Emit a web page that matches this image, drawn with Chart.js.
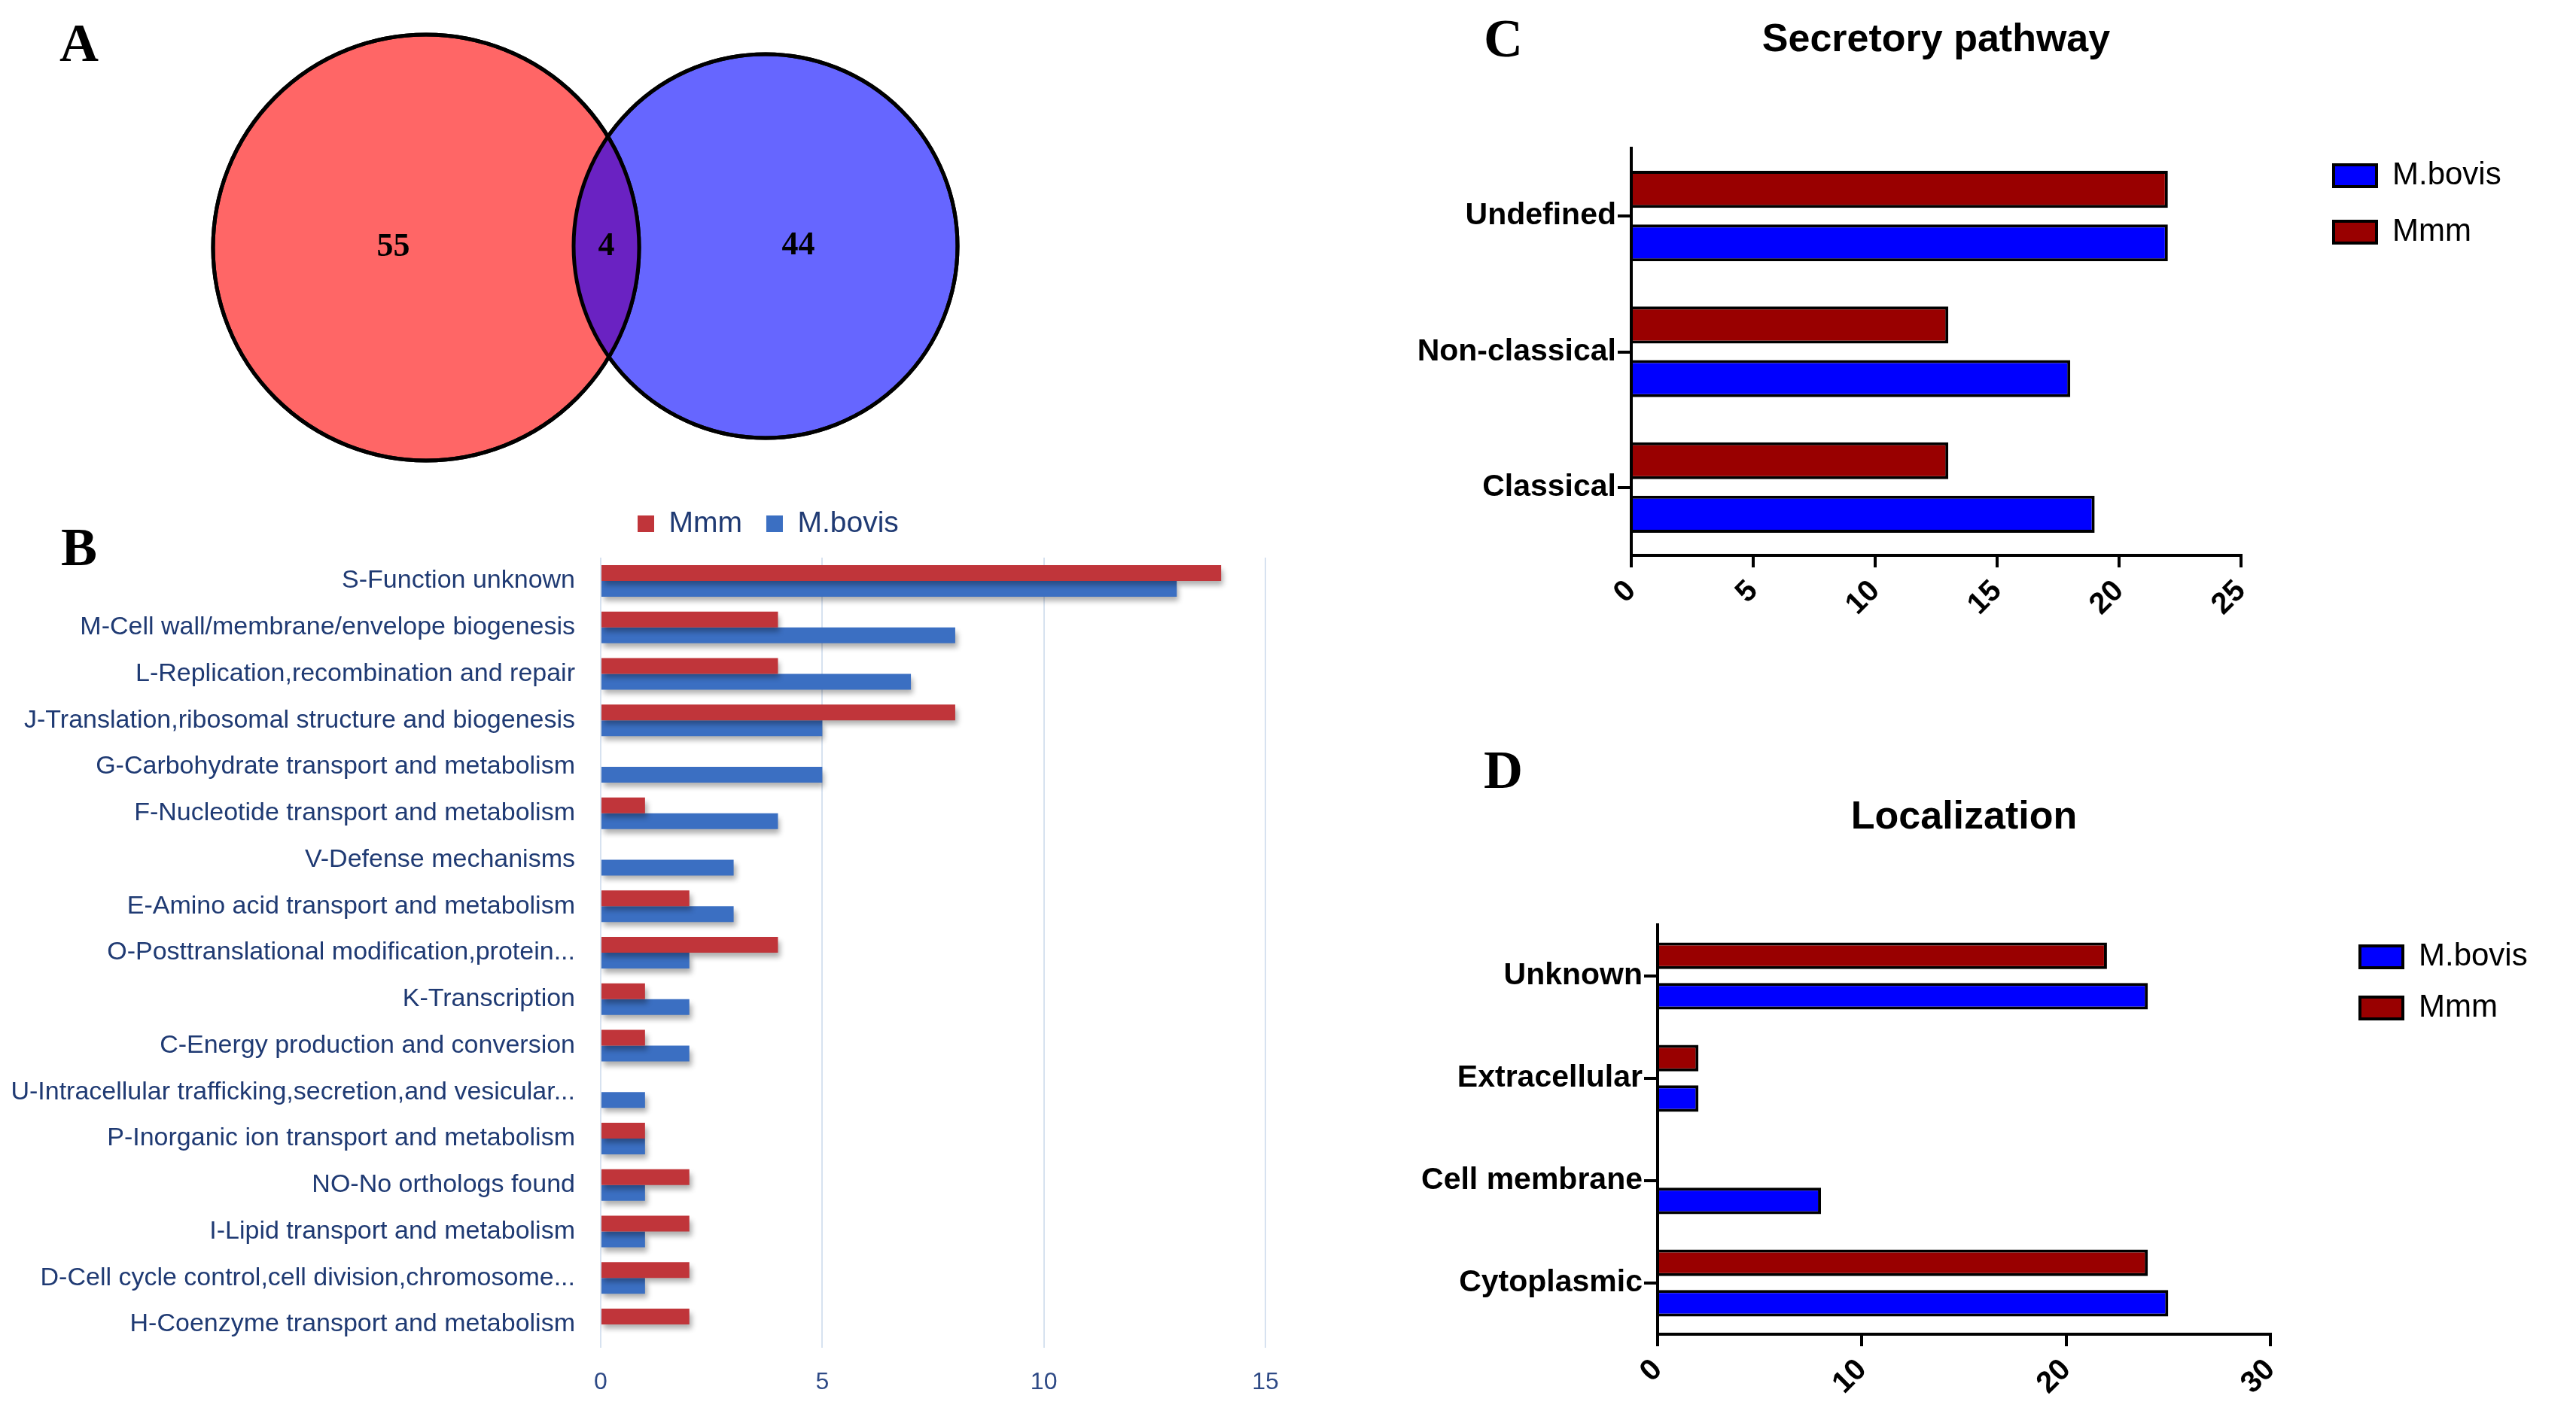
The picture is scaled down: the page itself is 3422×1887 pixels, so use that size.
<!DOCTYPE html>
<html>
<head>
<meta charset="utf-8">
<title>Mmm vs M.bovis</title>
<script src="https://cdn.jsdelivr.net/npm/chart.js@4.4.1/dist/chart.umd.min.js"></script>
<style>
  html, body { margin: 0; padding: 0; background: #fff; }
  body { width: 3422px; height: 1887px; position: relative; overflow: hidden; }
  .panel { position: absolute; }
  .letter {
    position: absolute;
    font-family: "Liberation Serif", "Times New Roman", serif;
    font-weight: bold;
    font-size: 72px;
    line-height: 1;
    color: #000;
    transform: translate(-50%, -56%);
  }
</style>
</head>
<body>
<div class="letter" style="left:105px; top:61px">A</div>
<div class="letter" style="left:105px; top:731px">B</div>
<div class="letter" style="left:1997px; top:55px">C</div>
<div class="letter" style="left:1997px; top:1027px">D</div>

<div class="panel" style="left:0; top:0; width:1400px; height:660px"><canvas id="venn"></canvas></div>
<div class="panel" style="left:0; top:650px; width:1760px; height:1237px"><canvas id="cog"></canvas></div>
<div class="panel" style="left:1850px; top:0; width:1572px; height:850px"><canvas id="secretory"></canvas></div>
<div class="panel" style="left:1850px; top:900px; width:1572px; height:987px"><canvas id="localization"></canvas></div>

<script>
// A - Venn
const vennSets = ['Mmm', 'M.bovis'];
const vennOnly = [55, 44];
const vennShared = 4;

// B - COG categories
const cogCategories = [
  'S-Function unknown',
  'M-Cell wall/membrane/envelope biogenesis',
  'L-Replication,recombination and repair',
  'J-Translation,ribosomal structure and biogenesis',
  'G-Carbohydrate transport and metabolism',
  'F-Nucleotide transport and metabolism',
  'V-Defense mechanisms',
  'E-Amino acid transport and metabolism',
  'O-Posttranslational modification,protein...',
  'K-Transcription',
  'C-Energy production and conversion',
  'U-Intracellular trafficking,secretion,and vesicular...',
  'P-Inorganic ion transport and metabolism',
  'NO-No orthologs found',
  'I-Lipid transport and metabolism',
  'D-Cell cycle control,cell division,chromosome...',
  'H-Coenzyme transport and metabolism'
];
const cogMmm   = [14, 4, 4, 8, 0, 1, 0, 2, 4, 1, 1, 0, 1, 2, 2, 2, 2];
const cogBovis = [13, 8, 7, 5, 5, 4, 3, 3, 2, 2, 2, 1, 1, 1, 1, 1, 0];
const cogTicks = [0, 5, 10, 15];

// C - secretory pathway
const secretCategories = ['Undefined', 'Non-classical', 'Classical'];
const secretMmm   = [22, 13, 13];
const secretBovis = [22, 18, 19];
const secretTicks = [0, 5, 10, 15, 20, 25];

// D - localization
const locCategories = ['Unknown', 'Extracellular', 'Cell membrane', 'Cytoplasmic'];
const locMmm   = [22, 2, 0, 24];
const locBovis = [24, 2, 8, 25];
const locTicks = [0, 10, 20, 30];

// layout / style
const vennCircles = [{x: 566, y: 329, r: 283}, {x: 1017, y: 327, r: 255}];
const vennFill = ['#FF6666', '#6666FF'];
const vennLens = '#6A22C2';

Chart.defaults.font.family = '"Liberation Sans", Arial, sans-serif';
Chart.defaults.animation = false;
Chart.defaults.events = [];
Chart.defaults.plugins.tooltip.enabled = false;
Chart.defaults.maintainAspectRatio = false;

const tickList = list => scale => { scale.ticks = list.map(v => ({value: v})); };

// put a legend's first item at a fixed spot on the canvas
function legendAt(boxX, rowY) {
  return {
    id: 'legendAt',
    afterLayout(chart) {
      const L = chart.legend;
      if (!L) return;
      const pad = L.options.labels.padding;
      const w = L.right - L.left, h = L.bottom - L.top;
      L.left = boxX - pad; L.right = L.left + w;
      L.top = rowY - pad; L.bottom = L.top + h;
    }
  };
}

const barShadow = {
  id: 'barShadow',
  beforeDatasetsDraw(chart) {
    const c = chart.ctx;
    c.save();
    c.shadowColor = 'rgba(0,0,0,0.32)';
    c.shadowOffsetX = 3;
    c.shadowOffsetY = 6;
    c.shadowBlur = 7;
  },
  afterDatasetsDraw(chart) { chart.ctx.restore(); }
};

const vennOverlap = {
  id: 'vennOverlap',
  afterDatasetsDraw(chart) {
    const ctx = chart.ctx;
    const a = chart.getDatasetMeta(0).data[0];
    const b = chart.getDatasetMeta(1).data[0];
    const ra = a.options.radius, rb = b.options.radius;
    ctx.save();
    ctx.beginPath(); ctx.arc(a.x, a.y, ra, 0, Math.PI * 2); ctx.clip();
    ctx.beginPath(); ctx.arc(b.x, b.y, rb, 0, Math.PI * 2);
    ctx.fillStyle = vennLens; ctx.fill();
    ctx.restore();

    ctx.save();
    ctx.lineWidth = 5; ctx.strokeStyle = '#000';
    [[a, ra], [b, rb]].forEach(([p, r]) => {
      ctx.beginPath(); ctx.arc(p.x, p.y, r, 0, Math.PI * 2); ctx.stroke();
    });
    ctx.fillStyle = '#000';
    ctx.font = 'bold 44px "Liberation Serif", "Times New Roman", serif';
    ctx.textAlign = 'center';
    ctx.textBaseline = 'middle';
    const aL = a.x - ra, aR = a.x + ra, bL = b.x - rb, bR = b.x + rb;
    ctx.fillText(String(vennOnly[0]), (aL + bL) / 2, a.y);
    ctx.fillText(String(vennShared), (bL + aR) / 2, (a.y + b.y) / 2);
    ctx.fillText(String(vennOnly[1]), (aR + bR) / 2, b.y);
    ctx.restore();
  }
};

new Chart(document.getElementById('venn'), {
  type: 'bubble',
  data: {
    datasets: vennSets.map((name, i) => ({
      label: name,
      data: [{x: vennCircles[i].x, y: vennCircles[i].y, r: vennCircles[i].r}],
      backgroundColor: vennFill[i],
      borderColor: '#000',
      borderWidth: 5
    }))
  },
  options: {
    layout: {padding: 0, autoPadding: false},
    plugins: {legend: {display: false}},
    scales: {
      x: {type: 'linear', min: 0, max: 1400, display: false},
      y: {type: 'linear', min: 0, max: 660, reverse: true, display: false}
    }
  },
  plugins: [vennOverlap]
});

const navy = '#1F3A73';

new Chart(document.getElementById('cog'), {
  type: 'bar',
  data: {
    labels: cogCategories,
    datasets: [
      {label: 'Mmm', data: cogMmm, backgroundColor: '#C0353A', borderWidth: 0},
      {label: 'M.bovis', data: cogBovis, backgroundColor: '#3B6FC2', borderWidth: 0}
    ]
  },
  options: {
    indexAxis: 'y',
    layout: {padding: {top: 10, right: 79, left: 0, bottom: 0}},
    datasets: {bar: {categoryPercentage: 0.68, barPercentage: 1}},
    plugins: {
      legend: {
        position: 'top', align: 'start',
        labels: {boxWidth: 22, boxHeight: 22, padding: 32, color: navy, font: {size: 39}}
      }
    },
    scales: {
      x: {
        min: 0, max: 15,
        afterBuildTicks: tickList(cogTicks),
        grid: {color: '#D7E2F0', lineWidth: 2, drawTicks: false},
        border: {display: false},
        ticks: {padding: 27, color: '#2E4A86', font: {size: 32}},
        afterFit: s => { s.height = 96; }
      },
      y: {
        grid: {display: false},
        border: {display: false},
        ticks: {padding: 26, color: navy, font: {size: 34}, autoSkip: false},
        afterFit: s => { s.width = 798; }
      }
    }
  },
  plugins: [barShadow, legendAt(847, 26.5)]
});

function prismOptions(title, titlePad, ticks, max, yWidth, xHeight, padRight, legendPad) {
  return {
    indexAxis: 'y',
    layout: {padding: {left: 0, right: padRight, top: 0, bottom: 0}},
    plugins: {
      title: {
        display: true, text: title, fullSize: false, color: '#000',
        font: {size: 52, weight: 'bold'}, padding: titlePad
      },
      legend: {
        position: 'chartArea', align: 'start', reverse: true,
        labels: {boxWidth: 57, boxHeight: 29, padding: legendPad, color: '#000', font: {size: 42}}
      }
    },
    scales: {
      x: {
        min: 0, max: max,
        afterBuildTicks: tickList(ticks),
        grid: {drawOnChartArea: false, color: '#000', lineWidth: 4, tickLength: 16},
        border: {color: '#000', width: 4},
        ticks: {color: '#000', font: {size: 40, weight: 'bold'}, minRotation: 45, maxRotation: 45, padding: 8},
        afterFit: s => { s.height = xHeight; }
      },
      y: {
        grid: {drawOnChartArea: false, offset: false, color: '#000', lineWidth: 4, tickLength: 18},
        border: {color: '#000', width: 4},
        ticks: {color: '#000', font: {size: 41, weight: 'bold'}, padding: 2, autoSkip: false},
        afterFit: s => { s.width = yWidth; }
      }
    }
  };
}

new Chart(document.getElementById('secretory'), {
  type: 'bar',
  data: {
    labels: secretCategories,
    datasets: [
      {label: 'Mmm', data: secretMmm, backgroundColor: '#990000', borderColor: '#000', borderWidth: 4,
       categoryPercentage: 0.79, barPercentage: 0.69},
      {label: 'M.bovis', data: secretBovis, backgroundColor: '#0000FF', borderColor: '#000', borderWidth: 4,
       categoryPercentage: 0.79, barPercentage: 0.69}
    ]
  },
  options: prismOptions('Secretory pathway', {top: 22, bottom: 112.6}, secretTicks, 25, 317, 112, 445, 33),
  plugins: [legendAt(1250, 212.5)]
});

new Chart(document.getElementById('localization'), {
  type: 'bar',
  data: {
    labels: locCategories,
    datasets: [
      {label: 'Mmm', data: locMmm, backgroundColor: '#990000', borderColor: '#000', borderWidth: 4,
       categoryPercentage: 0.79, barPercentage: 0.66},
      {label: 'M.bovis', data: locBovis, backgroundColor: '#0000FF', borderColor: '#000', borderWidth: 4,
       categoryPercentage: 0.79, barPercentage: 0.66}
    ]
  },
  options: prismOptions('Localization', {top: 155, bottom: 111.6}, locTicks, 30, 352, 114, 406, 26),
  plugins: [legendAt(1285, 350.5)]
});
</script>
</body>
</html>
